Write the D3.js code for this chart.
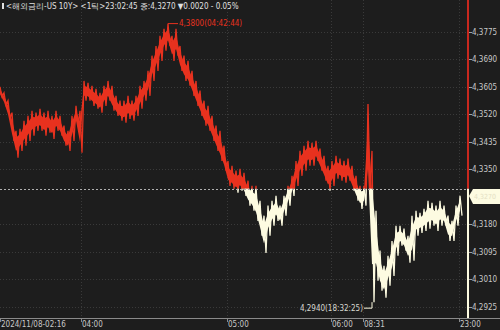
<!DOCTYPE html>
<html>
<head>
<meta charset="utf-8">
<script src="https://cdn.jsdelivr.net/npm/d3@7"></script>
<style>
  html, body { margin: 0; padding: 0; background: #1d1d1d; }
  svg { display: block; }
</style>
</head>
<body>
<div id="chart"></div>
<script>
const width = 500;
const height = 330;

// tick samples: high / low per sample (price)
const high = [4.3605,4.3586,4.3562,4.3525,4.3469,4.3475,4.3500,4.3515,4.3531,4.3525,
  4.3537,4.3525,4.3531,4.3515,4.3531,4.3515,4.3485,4.3469,4.3515,4.3546,
  4.3531,4.3623,4.3617,4.3608,4.3599,4.3586,4.3608,4.3623,4.3608,4.3577,
  4.3562,4.3562,4.3577,4.3562,4.3577,4.3608,4.3623,4.3654,4.3701,4.3731,
  4.3762,4.3784,4.3800,4.3762,4.3784,4.3731,4.3701,4.3685,4.3654,4.3623,
  4.3593,4.3562,4.3546,4.3515,4.3485,4.3469,4.3423,4.3376,4.3361,4.3346,
  4.3352,4.3339,4.3315,4.3299,4.3299,4.3253,4.3207,4.3238,4.3253,4.3268,
  4.3238,4.3268,4.3299,4.3330,4.3376,4.3407,4.3423,4.3438,4.3432,4.3438,
  4.3414,4.3392,4.3361,4.3376,4.3392,4.3383,4.3376,4.3383,4.3361,4.3330,
  4.3299,4.3299,4.3552,4.3407,4.3222,4.3099,4.3052,4.3083,4.3129,4.3176,
  4.3176,4.3167,4.3145,4.3207,4.3222,4.3216,4.3228,4.3253,4.3247,4.3238,
  4.3253,4.3238,4.3207,4.3191,4.3238,4.3268];
const low = [4.3574,4.3549,4.3506,4.3438,4.3386,4.3407,4.3423,4.3438,4.3454,4.3469,
  4.3469,4.3454,4.3463,4.3444,4.3469,4.3454,4.3423,4.3407,4.3438,4.3485,
  4.3401,4.3562,4.3562,4.3546,4.3537,4.3525,4.3546,4.3562,4.3531,4.3515,
  4.3500,4.3494,4.3506,4.3500,4.3515,4.3537,4.3562,4.3577,4.3623,4.3654,
  4.3685,4.3716,4.3731,4.3685,4.3701,4.3654,4.3623,4.3608,4.3577,4.3546,
  4.3515,4.3485,4.3469,4.3438,4.3407,4.3376,4.3346,4.3299,4.3290,4.3278,
  4.3284,4.3268,4.3238,4.3222,4.3191,4.3145,4.3092,4.3145,4.3176,4.3191,
  4.3176,4.3207,4.3238,4.3268,4.3299,4.3330,4.3346,4.3361,4.3361,4.3376,
  4.3346,4.3315,4.3284,4.3299,4.3321,4.3315,4.3309,4.3315,4.3284,4.3253,
  4.3228,4.3238,4.3284,4.2940,4.3006,4.2975,4.2954,4.2991,4.3021,4.3083,
  4.3114,4.3099,4.3062,4.3068,4.3145,4.3154,4.3160,4.3167,4.3176,4.3160,
  4.3176,4.3176,4.3129,4.3129,4.3176,4.3207];

const prevClose = 4.3290;
const lastPrice = 4.3270;
const yTicks = [4.3775,4.3690,4.3605,4.3520,4.3435,4.3350,4.3180,4.3095,4.3010,4.2925];
const xTickIdx = [0, 20.25, 56.75, 82.75, 90.75, 114.75];
const xTickLabels = ["2024/11/08-02:16","04:00","05:00","06:00","08:31","23:00"];
const maxIdx = 42, maxLabel = "4,3800(04:42:44)";
const minIdx = 93, minLabel = "4,2940(18:32:25)";
const title = "<해외금리-US 10Y> <1틱>23:02:45 종:4,3270";

const RED = "#e8321f";
const CREAM = "#fdfbe1";
const font = "'Liberation Sans Narrow','DejaVu Sans Condensed',sans-serif";
const fmt = v => v.toFixed(4).replace(".", ",");

const plotRight = 467;
const axisY = 318;

const svg = d3.select("#chart").append("svg")
    .attr("width", width)
    .attr("height", height)
    .style("background", "#1d1d1d");

const x = d3.scaleLinear().domain([0, high.length - 1]).range([0, 460]);
const y = d3.scaleLinear().domain([4.2925, 4.3775]).range([307, 31.7]);
const baseY = y(prevClose);

// grid
svg.append("g").selectAll("line")
    .data(yTicks)
    .join("line")
    .attr("x1", 0).attr("x2", plotRight)
    .attr("y1", d => Math.round(y(d)) + 0.5).attr("y2", d => Math.round(y(d)) + 0.5)
    .attr("stroke", "#3a3a3a")
    .attr("stroke-dasharray", "1,2");
svg.append("g").selectAll("line")
    .data(xTickIdx.slice(1))
    .join("line")
    .attr("x1", d => Math.round(x(d)) + 0.5).attr("x2", d => Math.round(x(d)) + 0.5)
    .attr("y1", 0).attr("y2", axisY)
    .attr("stroke", "#3a3a3a")
    .attr("stroke-dasharray", "1,2");

// clip regions above / below the previous close
const defs = svg.append("defs");
defs.append("clipPath").attr("id", "above")
    .append("rect").attr("x", 0).attr("y", 0).attr("width", plotRight).attr("height", baseY);
defs.append("clipPath").attr("id", "below")
    .append("rect").attr("x", 0).attr("y", baseY).attr("width", plotRight).attr("height", axisY - baseY);

const idx = d3.range(high.length);
// solid core of the band, a bit narrower than the full high-low range
const area = d3.area()
    .x(i => x(i))
    .y0(i => y(low[i] + (high[i] - low[i]) * 0.25))
    .y1(i => y(high[i] - (high[i] - low[i]) * 0.25));
// zigzag between high and low of each sample for the tick texture
const zig = [];
idx.forEach(i => {
    zig.push([x(i), y(high[i])]);
    zig.push([x(i) + 2, y(low[i])]);
});
const zigLine = d3.line();

[["above", RED], ["below", CREAM]].forEach(([clip, col]) => {
    const g = svg.append("g").attr("clip-path", `url(#${clip})`);
    g.append("path").datum(idx).attr("d", area).attr("fill", col);
    g.append("path").attr("d", zigLine(zig))
        .attr("fill", "none").attr("stroke", col).attr("stroke-width", 1.3);
});

// previous close line
svg.append("line")
    .attr("x1", 0).attr("x2", plotRight)
    .attr("y1", Math.round(baseY) + 0.5).attr("y2", Math.round(baseY) + 0.5)
    .attr("stroke", "#b0b0b0")
    .attr("stroke-dasharray", "2,2");

// bottom axis
const xAxis = svg.append("g").attr("transform", `translate(0,${axisY})`);
xAxis.append("line").attr("x1", 0).attr("x2", width).attr("y1", 0.5).attr("y2", 0.5)
    .attr("stroke", "#8a8a8a");
const xt = xAxis.selectAll("g.t").data(xTickIdx).join("g").attr("class", "t")
    .attr("transform", d => `translate(${Math.round(x(d)) + 0.5},0)`);
xt.append("line").attr("y1", 0).attr("y2", 4).attr("stroke", "#8a8a8a");
xt.append("text")
    .attr("x", 0.5).attr("y", 9)
    .attr("fill", "#c8c8c8")
    .style("font", `8px ${font}`)
    .text((d, i) => xTickLabels[i]);

// right axis
svg.append("line")
    .attr("x1", plotRight + 1).attr("x2", plotRight + 1).attr("y1", 0).attr("y2", baseY)
    .attr("stroke", "#c8281e").attr("stroke-width", 2);
svg.append("line")
    .attr("x1", plotRight + 1).attr("x2", plotRight + 1).attr("y1", baseY).attr("y2", axisY)
    .attr("stroke", CREAM).attr("stroke-width", 2);
const yt = svg.append("g").selectAll("g").data(yTicks).join("g")
    .attr("transform", d => `translate(${plotRight + 2},${Math.round(y(d)) + 0.5})`);
yt.append("line").attr("x1", 0).attr("x2", 3).attr("stroke", "#a0a0a0");
yt.append("text")
    .attr("x", 3).attr("dy", "0.35em")
    .attr("fill", "#c8c8c8")
    .style("font", `8px ${font}`)
    .text(d => fmt(d));

// current price tag
const ly = Math.round(baseY);
svg.append("path")
    .attr("d", `M${plotRight + 2},${ly + 7} L${plotRight + 6},${ly} L${width},${ly} L${width},${ly + 15} L${plotRight + 6},${ly + 15} Z`)
    .attr("fill", CREAM);
svg.append("text")
    .attr("x", plotRight + 7).attr("y", ly + 7.5).attr("dy", "0.35em")
    .attr("fill", "#e4e0c4")
    .style("font", `7px ${font}`)
    .text(fmt(lastPrice));

// max / min markers
const mx = x(maxIdx), my = y(high[maxIdx]);
svg.append("path").attr("d", `M${mx},${my} L${mx + 10},${my}`).attr("stroke", RED);
svg.append("text").attr("x", mx + 11).attr("y", my).attr("dy", "0.35em")
    .attr("fill", RED).style("font", `8px ${font}`).text(maxLabel);
const nx = x(minIdx), ny = y(low[minIdx]);
svg.append("path").attr("d", `M${nx},${ny} L${nx},${ny + 6} L${nx - 8},${ny + 6}`)
    .attr("stroke", CREAM).attr("fill", "none");
svg.append("text").attr("x", nx - 9).attr("y", ny + 6).attr("dy", "0.35em")
    .attr("text-anchor", "end")
    .attr("fill", "#d8d8d0").style("font", `8px ${font}`).text(minLabel);

// title
svg.append("rect").attr("x", 2).attr("y", 3).attr("width", 2).attr("height", 6).attr("fill", "#e0e0e0");
const tt = svg.append("text").attr("x", 6).attr("y", 9)
    .attr("fill", "#e0e0e0").style("font", `8px ${font}`);
tt.append("tspan").text(title + " ");
tt.append("tspan").text("▼0.0020  - 0.05%");
</script>
</body>
</html>
